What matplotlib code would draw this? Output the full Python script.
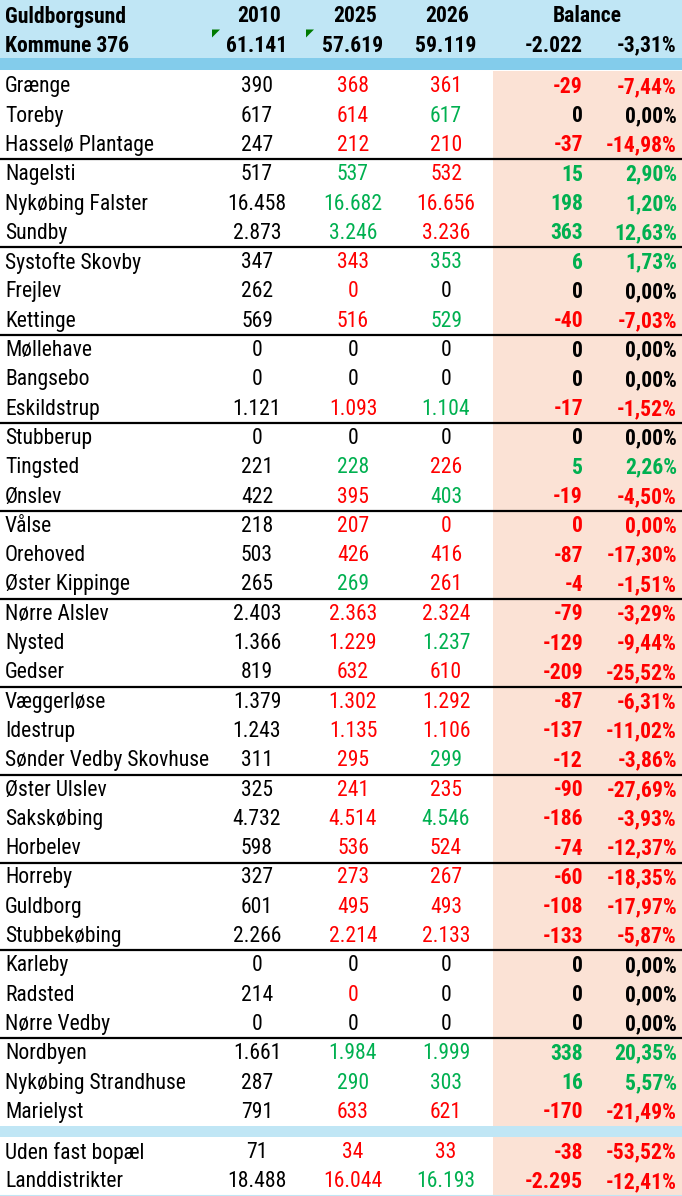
import matplotlib
matplotlib.use('Agg')
import matplotlib.pyplot as plt
from matplotlib.patches import Rectangle, Polygon

plt.rcParams['font.family'] = ['Roboto Condensed', 'DejaVu Sans']

# data
names = ['Grænge', 'Toreby', 'Hasselø Plantage',
         'Nagelsti', 'Nykøbing Falster', 'Sundby',
         'Systofte Skovby', 'Frejlev', 'Kettinge',
         'Møllehave', 'Bangsebo', 'Eskildstrup',
         'Stubberup', 'Tingsted', 'Ønslev',
         'Vålse', 'Orehoved', 'Øster Kippinge',
         'Nørre Alslev', 'Nysted', 'Gedser',
         'Væggerløse', 'Idestrup', 'Sønder Vedby Skovhuse',
         'Øster Ulslev', 'Sakskøbing', 'Horbelev',
         'Horreby', 'Guldborg', 'Stubbekøbing',
         'Karleby', 'Radsted', 'Nørre Vedby',
         'Nordbyen', 'Nykøbing Strandhuse', 'Marielyst']
v2010 = [390, 617, 247, 517, 16458, 2873, 347, 262, 569, 0, 0, 1121,
         0, 221, 422, 218, 503, 265, 2403, 1366, 819, 1379, 1243, 311,
         325, 4732, 598, 327, 601, 2266, 0, 214, 0, 1661, 287, 791]
v2025 = [368, 614, 212, 537, 16682, 3246, 343, 0, 516, 0, 0, 1093,
         0, 228, 395, 207, 426, 269, 2363, 1229, 632, 1302, 1135, 295,
         241, 4514, 536, 273, 495, 2214, 0, 0, 0, 1984, 290, 633]
v2026 = [361, 617, 210, 532, 16656, 3236, 353, 0, 529, 0, 0, 1104,
         0, 226, 403, 0, 416, 261, 2324, 1237, 610, 1292, 1106, 299,
         235, 4546, 524, 267, 493, 2133, 0, 0, 0, 1999, 303, 621]
balance = [-29, 0, -37, 15, 198, 363, 6, 0, -40, 0, 0, -17,
           0, 5, -19, 0, -87, -4, -79, -129, -209, -87, -137, -12,
           -90, -186, -74, -60, -108, -133, 0, 0, 0, 338, 16, -170]
pct = [-7.44, 0.00, -14.98, 2.90, 1.20, 12.63, 1.73, 0.00, -7.03, 0.00, 0.00, -1.52,
       0.00, 2.26, -4.50, 0.00, -17.30, -1.51, -3.29, -9.44, -25.52, -6.31, -11.02, -3.86,
       -27.69, -3.93, -12.37, -18.35, -17.97, -5.87, 0.00, 0.00, 0.00, 20.35, 5.57, -21.49]

extra_names = ['Uden fast bopæl', 'Landdistrikter']
extra_2010 = [71, 18488]
extra_2025 = [34, 16044]
extra_2026 = [33, 16193]
extra_balance = [-38, -2295]
extra_pct = [-53.52, -12.41]

total_label = ['Guldborgsund', 'Kommune 376']
total_2010 = 61141
total_2025 = 57619
total_2026 = 59119
total_balance = -2022
total_pct = -3.31

RED = '#FF0000'
GREEN = '#00B050'
LIGHTBLUE = '#C0E6F5'
MIDBLUE = '#83CCEB'
PINK = '#FBE2D5'


def fmt(n):
    s = f'{abs(n):,}'.replace(',', '.')
    return ('-' if n < 0 else '') + s


def fmt_pct(p):
    return f'{p:.2f}'.replace('.', ',') + '%'


def cmp_color(new, old):
    if new > old:
        return GREEN
    if new < old:
        return RED
    return 'black'


def sign_color(v):
    if v > 0:
        return GREEN
    if v < 0:
        return RED
    return 'black'


# Vålse shows 0 balance in red in the source sheet
balance_color_override = {'Vålse': RED}

fig = plt.figure(figsize=(6.82, 11.96), dpi=100)
ax = fig.add_axes([0, 0, 1, 1])
ax.set_xlim(0, 682)
ax.set_ylim(1196, 0)
ax.axis('off')

fs = 15.6
c2010, c2025, c2026 = 257, 353, 446
rbal, rpct = 583, 677
xname = 5

# header
ax.add_patch(Rectangle((0, 0), 682, 58, color=LIGHTBLUE, lw=0))
ax.add_patch(Rectangle((0, 58), 682, 12, color=MIDBLUE, lw=0))
h1, h2 = 16.5, 45.5
ax.text(xname, h1, total_label[0], fontsize=fs, fontweight='bold', va='center')
ax.text(xname, h2, total_label[1], fontsize=fs, fontweight='bold', va='center')
for x, t in [(c2010 + 2, '2010'), (c2025 + 2, '2025'), (c2026 + 1, '2026')]:
    ax.text(x, h1, t, fontsize=fs, fontweight='bold', ha='center', va='center')
ax.text(587, h1, 'Balance', fontsize=fs, fontweight='bold', ha='center', va='center')
for x, v in [(c2010, total_2010), (c2025, total_2025), (c2026, total_2026)]:
    ax.text(x, h2, fmt(v), fontsize=fs, fontweight='bold', ha='center', va='center')
ax.text(rbal, h2, fmt(total_balance), fontsize=fs, fontweight='bold', ha='right', va='center')
ax.text(rpct, h2, fmt_pct(total_pct), fontsize=fs, fontweight='bold', ha='right', va='center')
for x0 in (212, 306):
    ax.add_patch(Polygon([(x0, 29.5), (x0 + 8, 29.5), (x0, 37.5)], closed=True, color='#007A00', lw=0))

# body
top = 71.4
rh = 29.3
n = len(names)
ax.add_patch(Rectangle((493, top), 189, n * rh, color=PINK, lw=0))


def draw_row(yc, name, a, b, c, bal, p, bal_col):
    ax.text(xname, yc, name, fontsize=fs, va='center')
    ax.text(c2010, yc, fmt(a), fontsize=fs, ha='center', va='center')
    ax.text(c2025, yc, fmt(b), fontsize=fs, ha='center', va='center', color=cmp_color(b, a))
    ax.text(c2026, yc, fmt(c), fontsize=fs, ha='center', va='center', color=cmp_color(c, b))
    ax.text(rbal, yc, fmt(bal), fontsize=fs, fontweight='bold', ha='right', va='center', color=bal_col)
    ax.text(rpct, yc, fmt_pct(p), fontsize=fs, fontweight='bold', ha='right', va='center', color=bal_col)


for i in range(n):
    yc = top + (i + 0.5) * rh + 0.8
    col = balance_color_override.get(names[i], sign_color(balance[i]))
    draw_row(yc, names[i], v2010[i], v2025[i], v2026[i], balance[i], pct[i], col)
    if (i + 1) % 3 == 0 and i < n - 1:
        ax.plot([0, 682], [top + (i + 1) * rh] * 2, color='black', lw=1.6, solid_capstyle='butt')

band_top = top + n * rh
ax.add_patch(Rectangle((0, band_top), 682, 11, color=LIGHTBLUE, lw=0))
top2 = band_top + 11
ax.add_patch(Rectangle((493, top2), 189, len(extra_names) * rh, color=PINK, lw=0))
for j in range(len(extra_names)):
    yc = top2 + (j + 0.5) * rh + 0.8
    draw_row(yc, extra_names[j], extra_2010[j], extra_2025[j], extra_2026[j],
             extra_balance[j], extra_pct[j], sign_color(extra_balance[j]))
ax.plot([0, 682], [top2 + 2 * rh] * 2, color=LIGHTBLUE, lw=1.5)

fig.savefig('out.png', dpi=100)
